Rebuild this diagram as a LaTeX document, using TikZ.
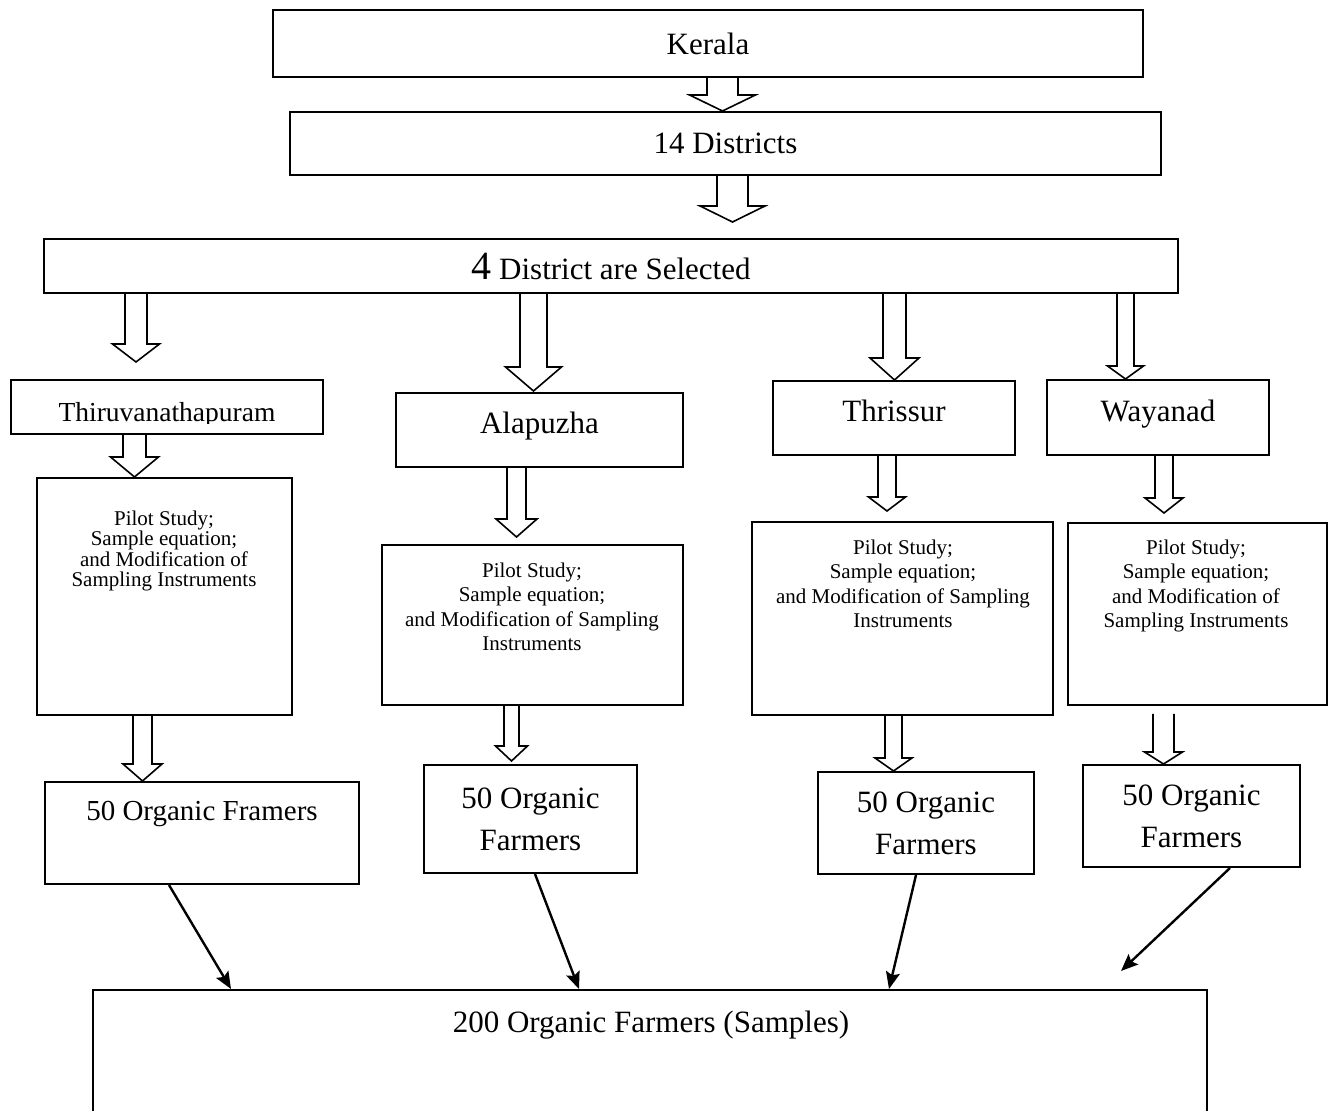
\documentclass[tikz,border=0pt]{standalone}
\usepackage{fontspec}
\setmainfont{Liberation Serif}
\usetikzlibrary{arrows.meta, calc}
\tikzset{
  every picture/.style={line width=1pt},
  box/.style 2 args={draw, rectangle, inner sep=0pt, align=center, minimum width=#1*0.5pt, minimum height=#2*0.5pt, font=\fontsize{15.5}{21}\selectfont},
  midtext/.style={text height=11pt, text depth=7pt},
  bigtext/.style={inner sep=0pt, font=\fontsize{15.5}{21}\selectfont},
  smalltext/.style={inner sep=0pt, align=center, font=\fontsize{10.5}{12.2}\selectfont},
  hollow/.style={draw, line width=0.8pt, line join=miter},
  link/.style={-{Stealth[length=8.5pt, width=7pt, inset=1.5pt]}, line width=1.2pt},
}
% hollow block arrow: from, to, x, shaft half, head half, head length, top gap, tip gap
\newcommand{\hollowarrow}[8]{%
  \coordinate (ha-a) at ($(#3,0 |- #1.south)+(0,#7)$);
  \coordinate (ha-b) at ($(#3,0 |- #2.north)+(0,-#8)$);
  \draw[hollow] ($(ha-a)+(-#4,0)$) -- ($(ha-b)+(-#4,-#6)$) -- ($(ha-b)+(-#5,-#6)$) -- (ha-b)
    -- ($(ha-b)+(#5,-#6)$) -- ($(ha-b)+(#4,-#6)$) -- ($(ha-a)+(#4,0)$);
}

\begin{document}
\begin{tikzpicture}[x=0.5pt, y=-0.5pt]
  \path[use as bounding box, clip] (0,0) rectangle (1333,1111);
  % top levels
  \node[box={870}{67}] (kerala) at (708,43.5) {Kerala};
  \node[box={871}{63}] (dist14) at (725.5,143.5) {14 Districts};
  \node[box={1134}{54}] (sel4) at (611,266) {{\fontsize{20}{24}\selectfont 4} District are Selected};
  % districts
  \node[box={312}{54}] (thiru) at (167,407) {};
  \begin{scope}
    \clip (thiru.north west) rectangle (thiru.east |- 0,424);
    \node[bigtext, anchor=base, font=\fontsize{13.75}{18}\selectfont] (thirutext) at (167,422) {Thiruvanathapuram};
  \end{scope}
  \node[box={287}{74}, midtext] (alap) at (539.5,430) {Alapuzha};
  \node[box={242}{74}, midtext] (thris) at (894,418) {Thrissur};
  \node[box={222}{75}, midtext] (wayan) at (1158,417.5) {Wayanad};
  % pilot study boxes
  \node[box={255}{237}] (pilot1) at (164.5,596.5) {};
  \node[box={301}{160}] (pilot2) at (532.5,625) {};
  \node[box={301}{193}] (pilot3) at (902.5,618.5) {};
  \node[box={259}{182}] (pilot4) at (1197.5,614) {};
  \node[smalltext, anchor=north, font=\fontsize{10.5}{10.2}\selectfont] (p1text) at (164,510) {Pilot Study;\\ Sample equation;\\ and Modification of\\ Sampling Instruments};
  \node[smalltext, anchor=north] (p2text) at (532,562) {Pilot Study;\\ Sample equation;\\ and Modification of Sampling\\ Instruments};
  \node[smalltext, anchor=north] (p3text) at (903,539) {Pilot Study;\\ Sample equation;\\ and Modification of Sampling\\ Instruments};
  \node[smalltext, anchor=north] (p4text) at (1196,539) {Pilot Study;\\ Sample equation;\\ and Modification of\\ Sampling Instruments};
  % farmer boxes
  \node[box={314}{102}] (org1) at (202,833) {};
  \node[bigtext, anchor=base, font=\fontsize{14.5}{20}\selectfont] (org1text) at (202,820) {50 Organic Framers};
  \node[box={213}{108}] (org2) at (530.5,819) {50 Organic\\ Farmers};
  \node[box={216}{102}] (org3) at (926,823) {50 Organic\\ Farmers};
  \node[box={217}{102}] (org4) at (1191.5,816) {50 Organic\\ Farmers};
  \node[box={1114}{260}] (sample) at (650,1120) {};
  \node[bigtext, anchor=base] (sampletext) at (651,1032) {200 Organic Farmers (Samples)};
  \coordinate (loose) at (1121,971);
  % block arrows
  \foreach \a/\b/\x/\sw/\hw/\hl/\ga/\gb in {
      kerala/dist14/722.5/15.5/33/16/0/0, dist14/sel4/732.5/15.5/32.5/16/0/16,
      sel4/thiru/136/11/23.5/18/0/17, thiru/pilot1/134.5/11.5/24/20/0/0, pilot1/org1/142.5/9.5/19.5/17/0/0,
      sel4/alap/533.5/13.5/28/24/0/1, alap/pilot2/516.5/9.5/20.5/18/0/7, pilot2/org2/511.5/7.5/16/15/0/3,
      sel4/thris/894.5/11.5/24.5/22/0/0, thris/pilot3/887/9/18.5/14/0/10, pilot3/org3/893.5/8.5/18.5/13/0/0,
      sel4/wayan/1125.5/8.5/18/13/0/0, wayan/pilot4/1164/9/19/15/0/9, pilot4/org4/1163.5/10.5/19/12/8/0}
    \hollowarrow{\a}{\b}{\x}{\sw}{\hw}{\hl}{\ga}{\gb};
  % to the sample
  \draw[link] (169,0 |- org1.south) -- (231,0 |- sample.north);
  \draw[link] (535,0 |- org2.south) -- (579,0 |- sample.north);
  \draw[link] (916,0 |- org3.south) -- (889,0 |- sample.north);
  \draw[link] (1230,0 |- org4.south) -- (loose);
\end{tikzpicture}
\end{document}
